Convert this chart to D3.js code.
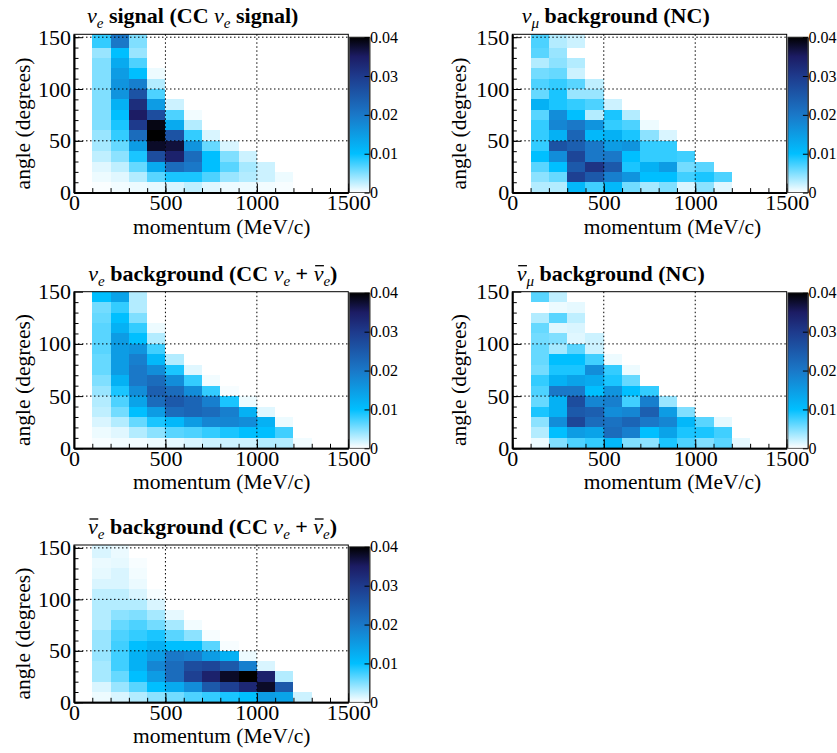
<!DOCTYPE html>
<html><head><meta charset="utf-8">
<script src="https://cdn.jsdelivr.net/npm/d3@7"></script>
<style>
body{margin:0;background:#fff}
svg{display:block}
text{font-family:"Liberation Serif","Times New Roman",serif;fill:#000}
</style>
</head><body>
<svg id="chart" width="837" height="753"></svg>
<script>
// ---------------- data ----------------
const momentumEdges = [100,200,300,400,500,600,700,800,900,1000,1100,1200,1300];
const angleEdges = [0,10,20,30,40,50,60,70,80,90,100,110,120,130,140,180];
const xTickValues = [0,500,1000,1500];
const xTickLabels = ["0","500","1000","1500"];
const yTickValues = [0,50,100,150];
const yTickLabels = ["0","50","100","150"];
const colorTickValues = [0,0.01,0.02,0.03,0.04];
const colorTickLabels = ["0","0.01","0.02","0.03","0.04"];
const xAxisTitle = "momentum (MeV/c)";
const yAxisTitle = "angle (degrees)";

// titles: [text, style] ; style: i = italic, sub = subscript, bar = italic with overline
const title1 = [["ν","i"],["e","sub"],[" signal (CC "],["ν","i"],["e","sub"],[" signal)"]];
const title2 = [["ν","i"],["μ","sub"],[" background (NC)"]];
const title3 = [["ν","i"],["e","sub"],[" background (CC "],["ν","i"],["e","sub"],[" + "],["ν","bar"],["e","sub"],[")"]];
const title4 = [["ν","bar"],["μ","sub"],[" background (NC)"]];
const title5 = [["ν","bar"],["e","sub"],[" background (CC "],["ν","i"],["e","sub"],[" + "],["ν","bar"],["e","sub"],[")"]];

// fractions per (momentum, angle) bin; rows listed from the highest angle bin (140+) down to 0-10 deg,
// columns are momentum bins 100-200, 200-300, ... MeV/c
const nueSignal = [
 [0.008,0.020,0.005],
 [0.004,0.010,0.004],
 [0.005,0.013,0.007],
 [0.005,0.015,0.010,0.0007],
 [0.005,0.016,0.019,0.003],
 [0.005,0.016,0.026,0.007],
 [0.005,0.012,0.032,0.015,0.002],
 [0.005,0.010,0.035,0.027,0.007,0.0005],
 [0.005,0.009,0.030,0.039,0.013,0.003],
 [0.004,0.008,0.022,0.040,0.026,0.008,0.0015],
 [0.0035,0.006,0.015,0.038,0.037,0.016,0.006,0.0015],
 [0.0025,0.0045,0.009,0.027,0.034,0.022,0.010,0.005,0.002],
 [0.0012,0.0025,0.006,0.013,0.022,0.020,0.010,0.0065,0.0035,0.002],
 [0.0007,0.0012,0.003,0.0065,0.009,0.009,0.007,0.004,0.003,0.002,0.0007],
 [0.0002,0.0005,0.0007,0.001,0.0015,0.0025,0.0012,0.0007,0.0007,0.0005,0.0003]
];
const numuNC = [
 [0.007,0.003,0.002],
 [0.0065,0.004,0],
 [0.003,0.0045,0.003],
 [0.0055,0.006,0.002],
 [0.007,0.008,0.0065,0.0025],
 [0.006,0.009,0.004,0.004],
 [0.012,0.009,0.008,0.007,0.002],
 [0.0065,0.017,0.010,0.003,0.009,0.003],
 [0.008,0.018,0.020,0.016,0.008,0.007,0.0007],
 [0.008,0.012,0.023,0.011,0.012,0.009,0.0045,0.0015],
 [0.008,0.026,0.024,0.020,0.015,0.016,0.008,0.008],
 [0.010,0.017,0.028,0.020,0.020,0.010,0.008,0.008,0.0075],
 [0.0065,0.010,0.025,0.031,0.025,0.009,0.012,0.015,0.0055,0.0065],
 [0.0045,0.006,0.029,0.025,0.019,0.016,0.010,0.010,0.0075,0.009,0.007],
 [0.003,0.003,0.011,0.0075,0.011,0.0055,0.0035,0.005,0.0015,0.0045,0.0012]
];
const nueBkg = [
 [0.010,0.014,0.003],
 [0.0055,0.008,0.003],
 [0.006,0.010,0.005],
 [0.0065,0.012,0.008,0.0007],
 [0.0065,0.015,0.010,0.003],
 [0.0065,0.015,0.016,0.0075],
 [0.006,0.015,0.019,0.011,0.003],
 [0.006,0.015,0.020,0.017,0.009,0.0012],
 [0.005,0.012,0.020,0.022,0.017,0.008,0.0005],
 [0.004,0.009,0.017,0.024,0.022,0.017,0.008,0.0003],
 [0.003,0.007,0.014,0.022,0.025,0.023,0.019,0.009,0.0007],
 [0.0025,0.0055,0.010,0.015,0.022,0.023,0.022,0.019,0.012,0.0012],
 [0.0015,0.003,0.006,0.009,0.011,0.015,0.018,0.018,0.017,0.012,0.0007],
 [0.0007,0.0012,0.003,0.0045,0.0065,0.007,0.008,0.009,0.010,0.010,0.0075],
 [0.0003,0.0005,0.0005,0.0007,0.001,0.0015,0.002,0.002,0.002,0.003,0.003,0.0005]
];
const numubarNC = [
 [0.0065,0.0025,0],
 [0,0.0007,0.001],
 [0.003,0.0065,0.0025],
 [0.006,0.0012,0.0015],
 [0.0055,0.005,0.0012,0.002],
 [0.006,0.0035,0.0065,0.002],
 [0.006,0.010,0.010,0.0075,0.0007],
 [0.0055,0.009,0.009,0.017,0.008,0.0007],
 [0.008,0.012,0.014,0.013,0.009,0.006],
 [0.007,0.020,0.020,0.010,0.016,0.010,0.008],
 [0.006,0.012,0.027,0.018,0.019,0.0075,0.019,0.004],
 [0.009,0.012,0.025,0.024,0.017,0.018,0.024,0.015,0.005],
 [0.0045,0.017,0.028,0.022,0.021,0.023,0.020,0.018,0.011,0.0065,0.001],
 [0.003,0.010,0.015,0.014,0.022,0.019,0.010,0.014,0.009,0.009,0.0075],
 [0.0007,0.005,0.007,0.008,0.011,0.005,0.0045,0.009,0.007,0.005,0.0065,0.001]
];
const nuebarBkg = [
 [0.0015,0.0008,0],
 [0.0008,0.001,0.0003],
 [0.001,0.0015,0.0005],
 [0.0015,0.0015,0.0008],
 [0.0025,0.0025,0.0015,0.0003],
 [0.003,0.003,0.003,0.0015],
 [0.003,0.0045,0.005,0.0035,0.001],
 [0.003,0.006,0.007,0.0055,0.0035,0.0005],
 [0.004,0.007,0.008,0.009,0.0065,0.0045,0.0003],
 [0.004,0.0075,0.010,0.012,0.010,0.010,0.0065,0.0003],
 [0.004,0.0075,0.012,0.015,0.020,0.019,0.015,0.012,0.0007],
 [0.0035,0.0075,0.012,0.018,0.022,0.027,0.028,0.025,0.019,0.0015],
 [0.0035,0.006,0.010,0.015,0.022,0.029,0.034,0.038,0.040,0.034,0.003],
 [0.0015,0.004,0.0065,0.010,0.013,0.017,0.025,0.029,0.033,0.038,0.025],
 [0.0007,0.0015,0.003,0.0045,0.0055,0.007,0.008,0.009,0.010,0.015,0.014,0.002]
];

// palette stops
const paletteValues = [0,0.01,0.02,0.03,0.035,0.04];
const paletteColors = ["#ffffff","#00bfff","#1a78c8","#1e3a8c","#1c1c64","#000000"];

// ---------------- layout ----------------
const panels = [
 {values:nueSignal, title:title1, left:74,    right:348.3, top:34.3,  bottom:192.6, ymax:152.8, titleX:87,    xTitleX:221.7, yTitleX:22},
 {values:numuNC,    title:title2, left:512.3, right:786.7, top:34.3,  bottom:192.6, ymax:152.8, titleX:521.7, xTitleX:672.5, yTitleX:458},
 {values:nueBkg,    title:title3, left:74,    right:348.3, top:291.7, bottom:448.3, ymax:150,   titleX:88.3,  xTitleX:221.7, yTitleX:22},
 {values:numubarNC, title:title4, left:512.3, right:786.7, top:291.7, bottom:448.3, ymax:150,   titleX:516.7, xTitleX:672.5, yTitleX:458},
 {values:nuebarBkg, title:title5, left:74,    right:348.3, top:545,   bottom:702.3, ymax:152.8, titleX:88,    xTitleX:221.7, yTitleX:22}
];

const svg = d3.select("#chart");
const color = d3.scaleLinear().domain(paletteValues).range(paletteColors).clamp(true);

// gradient for colour bars
const defs = svg.append("defs");
const grad = defs.append("linearGradient").attr("id","pal").attr("x1",0).attr("y1",1).attr("x2",0).attr("y2",0);
paletteValues.forEach((v,i)=>grad.append("stop").attr("offset",v/0.04).attr("stop-color",paletteColors[i]));

panels.forEach((p,pi)=>{
  const x = d3.scaleLinear().domain([0,1500]).range([p.left,p.right]);
  const y = d3.scaleLinear().domain([0,p.ymax]).range([p.bottom,p.top]);
  const g = svg.append("g");
  const clipId = "clip"+pi;
  defs.append("clipPath").attr("id",clipId).append("rect")
    .attr("x",p.left).attr("y",p.top).attr("width",p.right-p.left).attr("height",p.bottom-p.top);

  // cells
  const cells = [];
  const nRows = p.values.length;
  p.values.forEach((row,ri)=>{
    const ai = nRows-1-ri; // angle bin index
    row.forEach((v,mi)=>{ if(v>0) cells.push({ai,mi,v}); });
  });
  g.append("g").attr("clip-path",`url(#${clipId})`).attr("shape-rendering","crispEdges")
    .selectAll("rect").data(cells).join("rect")
    .attr("x",d=>x(momentumEdges[d.mi]))
    .attr("width",d=>x(momentumEdges[d.mi+1])-x(momentumEdges[d.mi]))
    .attr("y",d=>y(angleEdges[d.ai+1]))
    .attr("height",d=>y(angleEdges[d.ai])-y(angleEdges[d.ai+1]))
    .attr("fill",d=>color(d.v));

  // grid (dotted)
  const grid = g.append("g").attr("stroke","#000").attr("stroke-width",1).attr("stroke-dasharray","1.5,2.5");
  grid.selectAll(".gx").data(xTickValues.filter(v=>v>0&&v<1500)).join("line")
    .attr("x1",d=>x(d)).attr("x2",d=>x(d)).attr("y1",p.top).attr("y2",p.bottom);
  grid.selectAll(".gy").data(yTickValues.filter(v=>v>0&&v<p.ymax-1)).join("line")
    .attr("y1",d=>y(d)).attr("y2",d=>y(d)).attr("x1",p.left).attr("x2",p.right);

  // frame
  g.append("rect").attr("x",p.left).attr("y",p.top).attr("width",p.right-p.left).attr("height",p.bottom-p.top)
    .attr("fill","none").attr("stroke","#000").attr("stroke-width",1);

  // minor ticks
  const xMinor = d3.range(0,1501,100);
  const yMinor = d3.range(0,p.ymax,10);
  g.append("g").attr("transform",`translate(0,${p.bottom})`)
    .call(d3.axisBottom(x).tickValues(xMinor).tickSize(-4.5).tickFormat(""))
    .call(a=>a.select(".domain").remove());
  g.append("g").attr("transform",`translate(${p.left},0)`)
    .call(d3.axisLeft(y).tickValues(yMinor).tickSize(-4.5).tickFormat(""))
    .call(a=>a.select(".domain").remove());

  // major axes
  const ax = g.append("g").attr("transform",`translate(0,${p.bottom})`)
    .call(d3.axisBottom(x).tickValues(xTickValues).tickSize(-9).tickPadding(2).tickSizeOuter(0)
      .tickFormat((d,i)=>xTickLabels[i]));
  ax.select(".domain").attr("stroke-width",2);
  ax.selectAll("text").attr("font-size",22).attr("font-family","Liberation Serif");
  const ay = g.append("g").attr("transform",`translate(${p.left},0)`)
    .call(d3.axisLeft(y).tickValues(yTickValues).tickSize(-9).tickPadding(3).tickSizeOuter(0)
      .tickFormat((d,i)=>yTickLabels[i]));
  ay.select(".domain").attr("stroke-width",2);
  ay.selectAll("text").attr("font-size",22).attr("font-family","Liberation Serif");
  g.selectAll(".tick line").attr("stroke","#000");

  // axis titles
  g.append("text").attr("x",p.xTitleX).attr("y",p.bottom+41).attr("text-anchor","middle")
    .attr("font-size",21.5).text(xAxisTitle);
  g.append("text").attr("transform",`translate(${p.yTitleX},${(p.top+p.bottom)/2+10}) rotate(-90)`)
    .attr("text-anchor","middle").attr("dy","0.35em").attr("font-size",21.5).text(yAxisTitle);

  // colour bar
  const cbX = p.right+1.2, cbW = 20, cbBottom = p.bottom, cbTop = p.bottom-155.5;
  g.append("rect").attr("x",cbX).attr("y",cbTop).attr("width",cbW).attr("height",cbBottom-cbTop)
    .attr("fill","url(#pal)").attr("stroke","#333").attr("stroke-width",0.8);
  const cs = d3.scaleLinear().domain([0,0.04]).range([cbBottom,cbTop]);
  const ac = g.append("g").attr("transform",`translate(${cbX+cbW},0)`)
    .call(d3.axisRight(cs).tickValues(colorTickValues).tickSize(-5).tickPadding(0.5).tickSizeOuter(0)
      .tickFormat((d,i)=>colorTickLabels[i]));
  ac.select(".domain").attr("stroke","#333");
  ac.selectAll("text").attr("font-size",16).attr("font-family","Liberation Serif");

  // title
  const ty = p.top-11;
  const t = g.append("text").attr("x",p.titleX).attr("y",ty).attr("font-size",22).attr("font-weight","bold");
  let shifted = false, charIdx = 0; const bars = [];
  p.title.forEach(([s,st])=>{
    const ts = t.append("tspan").text(s);
    if(st==="sub"){ ts.attr("font-size",15).attr("font-style","italic").attr("font-weight","normal"); if(!shifted){ts.attr("dy",5); shifted=true;} }
    else { if(shifted){ts.attr("dy",-5); shifted=false;} }
    if(st==="i"||st==="bar"){ ts.attr("font-style","italic").attr("font-weight","normal"); }
    if(st==="bar") bars.push(charIdx);
    charIdx += s.length;
  });
  bars.forEach(ci=>{
    const e = t.node().getExtentOfChar(ci);
    g.append("line").attr("x1",e.x+1.5).attr("x2",e.x+e.width+0.5).attr("y1",ty-15).attr("y2",ty-15)
      .attr("stroke","#000").attr("stroke-width",1.3);
  });
});
</script>
</body></html>
